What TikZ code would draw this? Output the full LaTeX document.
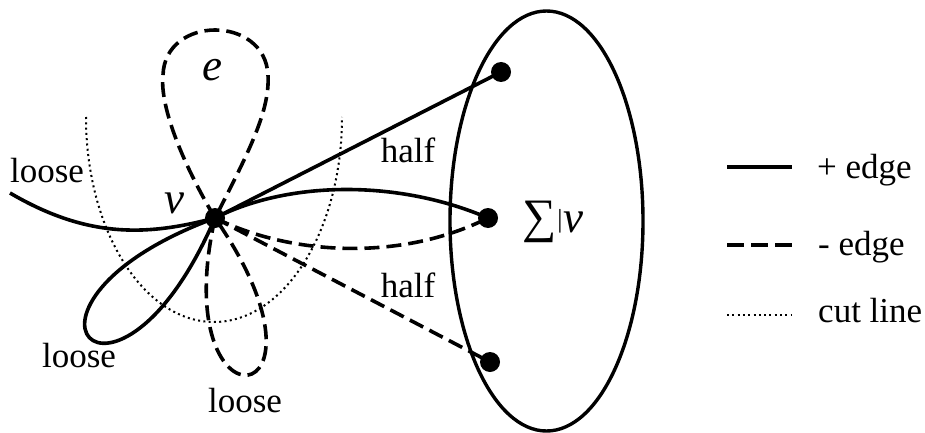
\documentclass[tikz,border=0pt]{standalone}
\usepackage{fontspec}
\setmainfont{Liberation Serif}
\begin{document}
\begin{tikzpicture}[x=1pt,y=-1pt,
  plusedge/.style={line width=3.6pt},
  minusedge/.style={line width=3.6pt, dash pattern=on 15pt off 7pt},
  cutedge/.style={line width=2pt, dash pattern=on 2pt off 3.3pt},
  vdot/.style={circle, fill, inner sep=0pt, minimum size=20pt},
  lbl/.style={font=\fontsize{35}{40}\selectfont, inner sep=0pt, anchor=base},
  mth/.style={font=\fontsize{45}{50}\selectfont\itshape, inner sep=0pt, anchor=base}]
\useasboundingbox (0,0) rectangle (925,433);

% vertices
\node[vdot] (v) at (215,218) {};
\node[vdot] (d1) at (501,72) {};
\node[vdot] (d2) at (488,218) {};
\node[vdot] (d3) at (490,362) {};
\coordinate (c) at (546.5,221);
\coordinate (lstart) at (10,193);
\coordinate (cutL) at (86,117);

% ellipse
\draw[line width=3.4pt] (c) ellipse [x radius=96.5pt, y radius=210pt];

% cut line
\draw[cutedge] (cutL) arc [start angle=180, end angle=360, x radius=128pt, y radius=205pt];

% half edges
\draw[plusedge] (v.center) -- (d1.center);
\draw[plusedge] (v.center) .. controls (290,180) and (400,180) .. (d2.center);
\draw[minusedge] (v.center) .. controls (290,255) and (400,262) .. (d2.center);
\draw[minusedge] (v.center) -- (d3.center);

% loose edges
\draw[plusedge] (lstart) .. controls (90,240) and (150,235) .. (v.center);
\draw[plusedge] (v.center) .. controls (-20,305) and (115,450) .. (v.center);
\draw[minusedge] (v.center) .. controls (165,440) and (352,415) .. (v.center);

% loop e
\draw[minusedge] (v.center) .. controls (175,150) and (160,100) .. (163,75)
  .. controls (165,15) and (265,15) .. (268,75)
  .. controls (270,110) and (250,150) .. (v.center);

% labels
\node[lbl] (l1) at (47,182) {loose};
\node[lbl] (l2) at (79,367) {loose};
\node[lbl] (l3) at (245,412) {loose};
\node[lbl] (h1) at (408,162) {half};
\node[lbl] (h2) at (408,297) {half};
\node[mth] (vl) at (174,213) {v};
\node[mth] (el) at (212,81) {e};
\node[lbl, anchor=base west, font=\fontsize{48}{54}\selectfont] (sig) at (522,232)
  {∑\kern1pt{\fontsize{26}{30}\selectfont\raisebox{5pt}{|}}\kern1pt{\fontsize{45}{50}\selectfont\textit{v}}};

% legend
\coordinate (a1) at (727,167); \coordinate (b1) at (792,167);
\coordinate (a2) at (727,245); \coordinate (b2) at (792,245);
\coordinate (a3) at (727,315); \coordinate (b3) at (792,315);
\draw[plusedge] (a1) -- (b1);
\draw[line width=3.6pt, dash pattern=on 17pt off 7pt] (a2) -- (b2);
\draw[cutedge] (a3) -- (b3);
\node[lbl, anchor=base west] (t1) at (817,178) {+ edge};
\node[lbl, anchor=base west] (t2) at (818,255) {- edge};
\node[lbl, anchor=base west] (t3) at (818,322) {cut line};
\end{tikzpicture}
\end{document}
